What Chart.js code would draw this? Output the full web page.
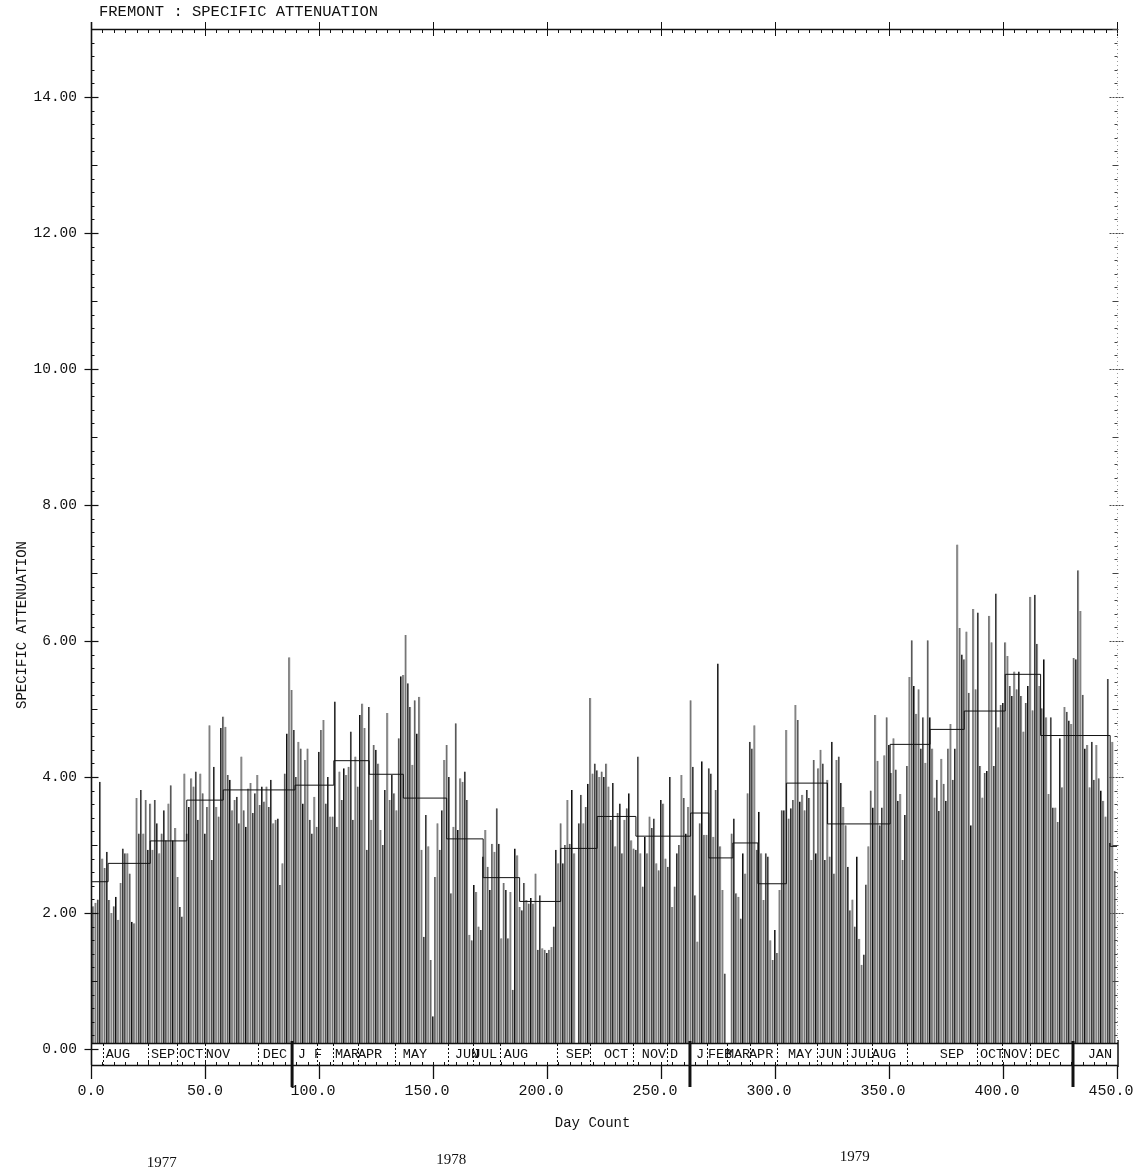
<!DOCTYPE html>
<html>
<head>
<meta charset="utf-8">
<title>FREMONT : SPECIFIC ATTENUATION</title>
<script src="https://cdn.jsdelivr.net/npm/chart.js@4.4.1/dist/chart.umd.min.js"></script>
<style>
  html, body { margin: 0; padding: 0; background: #fff; }
  #wrap { width: 1140px; height: 1174px; }
</style>
</head>
<body>
<div id="wrap"><canvas id="chart" width="1140" height="1174"></canvas></div>
<script>
// Daily specific attenuation, one value per day count (0 .. 449)
const dailyAttenuation = [
  2.44, 2.10, 2.15, 2.20, 3.93, 2.80, 2.66, 2.90, 2.19, 2.00,
  2.10, 2.24, 1.90, 2.44, 2.95, 2.88, 2.88, 2.58, 1.87, 1.85,
  3.69, 3.17, 3.81, 3.17, 3.66, 2.93, 3.61, 2.93, 3.66, 3.32,
  2.88, 3.17, 3.51, 3.07, 3.61, 3.88, 3.07, 3.25, 2.53, 2.09,
  1.95, 4.05, 3.17, 3.56, 3.98, 3.86, 4.08, 3.37, 4.05, 3.76,
  3.17, 3.56, 4.76, 2.78, 4.15, 3.56, 3.42, 4.72, 4.89, 4.74,
  4.03, 3.96, 3.51, 3.66, 3.71, 3.32, 4.30, 3.51, 3.27, 3.83,
  3.91, 3.47, 3.76, 4.03, 3.59, 3.86, 3.64, 3.86, 3.56, 3.96,
  3.32, 3.37, 3.39, 2.41, 2.73, 4.05, 4.64, 5.76, 5.28, 4.69,
  4.00, 4.52, 4.42, 3.61, 4.25, 4.42, 3.37, 3.17, 3.71, 3.27,
  4.37, 4.69, 4.84, 3.61, 4.00, 3.42, 3.42, 5.11, 3.27, 4.08,
  3.66, 4.13, 4.03, 4.15, 4.67, 3.37, 4.30, 3.86, 4.91, 5.08,
  4.72, 2.93, 5.03, 3.37, 4.47, 4.40, 4.20, 3.22, 3.00, 3.81,
  4.94, 3.66, 4.03, 3.76, 3.51, 4.57, 5.48, 5.50, 6.09, 5.38,
  5.03, 4.18, 5.13, 4.64, 5.18, 2.93, 1.65, 3.44, 2.98, 1.31,
  0.48, 2.53, 3.32, 2.93, 3.51, 4.25, 4.47, 4.00, 2.29, 3.27,
  4.79, 3.22, 3.98, 3.93, 4.08, 3.66, 1.68, 1.60, 2.41, 2.31,
  1.80, 1.75, 2.83, 3.22, 2.68, 2.34, 3.02, 2.90, 3.54, 3.02,
  1.63, 2.44, 2.34, 1.63, 2.31, 0.87, 2.95, 2.85, 2.09, 2.04,
  2.44, 2.19, 2.14, 2.22, 2.14, 2.58, 1.46, 2.26, 1.48, 1.46,
  1.41, 1.46, 1.50, 1.80, 2.93, 2.73, 3.32, 2.73, 3.00, 3.66,
  3.02, 3.81, 2.88, 0.00, 3.32, 3.74, 3.32, 3.56, 3.90, 5.16,
  4.05, 4.20, 4.10, 4.00, 4.08, 4.00, 4.20, 3.86, 3.37, 3.91,
  2.98, 3.47, 3.61, 2.88, 3.37, 3.54, 3.76, 3.07, 2.95, 2.93,
  4.30, 2.88, 2.39, 3.12, 2.88, 3.42, 3.25, 3.39, 2.73, 2.63,
  3.66, 3.61, 2.80, 2.68, 4.00, 2.09, 2.39, 2.88, 3.00, 4.03,
  3.69, 3.17, 3.56, 5.13, 4.15, 2.26, 1.58, 3.32, 4.23, 3.15,
  3.15, 4.13, 4.05, 3.12, 3.81, 5.67, 2.98, 2.34, 1.11, 0.00,
  0.00, 3.17, 3.39, 2.29, 2.24, 1.92, 2.88, 2.58, 3.76, 4.52,
  4.42, 4.76, 2.93, 3.49, 2.88, 2.19, 2.88, 2.83, 1.60, 1.31,
  1.75, 1.41, 2.34, 3.51, 3.51, 4.69, 3.39, 3.54, 3.66, 5.06,
  4.84, 3.64, 3.74, 3.51, 3.81, 3.69, 2.78, 4.25, 2.88, 4.13,
  4.40, 4.20, 2.78, 3.96, 2.83, 4.52, 2.58, 4.25, 4.30, 3.91,
  3.56, 3.29, 2.68, 2.04, 2.20, 1.80, 2.83, 1.62, 1.24, 1.39,
  2.42, 2.98, 3.80, 3.55, 4.91, 4.24, 3.29, 3.55, 4.32, 4.88,
  4.47, 4.06, 4.57, 4.11, 3.65, 3.75, 2.78, 3.44, 4.16, 5.47,
  6.01, 5.34, 4.93, 5.29, 4.42, 4.88, 4.21, 6.01, 4.88, 4.42,
  3.70, 3.96, 3.50, 4.27, 3.90, 3.65, 4.42, 4.78, 3.96, 4.42,
  7.42, 6.19, 5.80, 5.73, 6.14, 5.24, 3.29, 6.47, 5.29, 6.42,
  4.16, 3.70, 4.06, 4.09, 6.37, 5.98, 4.16, 6.70, 4.73, 5.06,
  5.09, 5.98, 5.78, 5.34, 5.19, 5.55, 5.29, 5.55, 5.19, 4.67,
  5.09, 5.34, 6.65, 4.98, 6.68, 5.96, 5.34, 5.01, 5.73, 4.88,
  3.75, 4.88, 3.55, 3.55, 3.34, 4.57, 3.85, 5.03, 4.96, 4.83,
  4.78, 5.75, 5.73, 7.04, 6.44, 5.21, 4.42, 4.47, 3.85, 4.52,
  3.96, 4.47, 3.98, 3.80, 3.65, 3.42, 5.44, 3.03, 4.52, 2.62
];

// Monthly mean levels: start day of each period and its mean value
const meanStartDay = [0, 7.5, 26, 42, 58, 89.5, 106.5, 122, 137, 156, 172, 188, 206, 222, 239, 263, 271, 281.5, 292.5, 305, 323, 350.5, 368, 383, 401, 416.5, 447, 450];
const meanValue    = [2.46, 2.73, 3.06, 3.66, 3.81, 3.88, 4.24, 4.04, 3.69, 3.09, 2.52, 2.17, 2.95, 3.42, 3.13, 3.47, 2.81, 3.03, 2.43, 3.91, 3.31, 4.48, 4.70, 4.97, 5.51, 4.61, 2.98, 2.98];

// Month strip along the day axis
const monthNames = ['AUG','SEP','OCT','NOV','DEC','J','F','MAR','APR','MAY','JUN','JUL','AUG','SEP','OCT','NOV','D','J','FEB','MAR','APR','MAY','JUN','JUL','AUG','SEP','OCT','NOV','DEC','JAN'];
const monthCenterDay = [11.8, 31.6, 43.9, 55.7, 80.7, 92.5, 99.6, 112.3, 122.4, 142.1, 164.9, 172.8, 186.4, 213.6, 230.3, 246.9, 255.7, 267.1, 275.9, 283.8, 293.9, 311.0, 324.1, 338.2, 347.8, 377.6, 395.2, 405.3, 419.7, 442.5];
const monthBoundaryDay = [5.3, 25, 37.7, 50, 73.2, 99.1, 106.1, 117.1, 133.3, 156.6, 167.5, 179.4, 204.4, 218.9, 237.7, 252.6, 270.2, 279, 289, 300.9, 318.4, 331.6, 342.5, 357.9, 388.6, 399.6, 411.8];
const yearBoundaryDay = [88.2, 262.7, 430.7];
const yearLabels = ['1977', '1978', '1979'];
const yearLabelDay = [31, 158, 335];

// Axis ticks
const xTickValues = [0, 50, 100, 150, 200, 250, 300, 350, 400, 450];
const xTickLabels = ['0.0', '50.0', '100.0', '150.0', '200.0', '250.0', '300.0', '350.0', '400.0', '450.0'];
const yTickValues = [0, 2, 4, 6, 8, 10, 12, 14];
const yTickLabels = ['0.00', '2.00', '4.00', '6.00', '8.00', '10.00', '12.00', '14.00'];

const MONO = '"Liberation Mono", "DejaVu Sans Mono", monospace';
const SERIF = '"Liberation Serif", "DejaVu Serif", serif';

function seg(ctx, x1, y1, x2, y2, w, dash) {
  ctx.beginPath();
  ctx.lineWidth = w;
  ctx.setLineDash(dash || []);
  ctx.moveTo(x1, y1);
  ctx.lineTo(x2, y2);
  ctx.stroke();
  ctx.setLineDash([]);
}

// Plotter-style frame: axes, tick marks, month strip and labels
const plotterFrame = {
  id: 'plotterFrame',
  afterDatasetsDraw(chart) {
    const { ctx, chartArea: a, scales } = chart;
    const xs = scales.x, ys = scales.y;
    const y0 = ys.getPixelForValue(0);
    const sTop = y0 - 6, sBot = y0 + 16;
    ctx.save();
    ctx.strokeStyle = '#111';
    ctx.fillStyle = '#111';

    // month strip
    ctx.fillStyle = '#fff';
    ctx.fillRect(a.left, sTop, a.right - a.left + 1, sBot - sTop);
    ctx.fillStyle = '#111';
    seg(ctx, a.left, sTop + 0.5, a.right + 1, sTop + 0.5, 1.3);
    seg(ctx, a.left, sBot + 0.5, a.right + 1, sBot + 0.5, 1.3);
    seg(ctx, a.right + 1, sTop - 3, a.right + 1, sBot + 2, 1.5);
    monthBoundaryDay.forEach(d => {
      const px = Math.round(xs.getPixelForValue(d)) + 0.5;
      seg(ctx, px, sTop + 1, px, sBot, 1, [2, 2]);
    });
    for (let d = 5; d < 450; d += 5) {
      const px = Math.round(xs.getPixelForValue(d)) + 0.5;
      seg(ctx, px, sBot - 3, px, sBot, 1);
    }
    ctx.font = '13.5px ' + MONO;
    ctx.textAlign = 'center';
    ctx.textBaseline = 'middle';
    monthNames.forEach((m, i) => {
      ctx.fillText(m, xs.getPixelForValue(monthCenterDay[i]), y0 + 5);
    });
    yearBoundaryDay.forEach(d => {
      const px = xs.getPixelForValue(d);
      seg(ctx, px, sTop - 2, px, sBot + 22, 3);
    });

    // x axis ticks and labels
    xTickValues.forEach(v => {
      const px = Math.round(xs.getPixelForValue(v)) + 0.5;
      seg(ctx, px, sBot, px, sBot + 14, 1.3);
    });
    ctx.font = '15px ' + MONO;
    ctx.textBaseline = 'middle';
    xTickValues.forEach((v, i) => {
      const shift = v < 100 ? 0 : -6;
      ctx.fillText(xTickLabels[i], xs.getPixelForValue(v) + shift, 1091);
    });
    ctx.font = '14px ' + MONO;
    ctx.fillText('Day Count', xs.getPixelForValue(220), 1123);
    ctx.font = '15px ' + SERIF;
    const yearY = [1163, 1160, 1157];
    yearLabels.forEach((t, i) => {
      ctx.fillText(t, xs.getPixelForValue(yearLabelDay[i]), yearY[i]);
    });

    // top border with day ticks
    seg(ctx, a.left, a.top + 0.5, a.right + 1, a.top + 0.5, 1.3);
    for (let d = 5; d <= 450; d += 5) {
      const px = Math.round(xs.getPixelForValue(d)) + 0.5;
      if (d % 50 === 0) seg(ctx, px, a.top - 7, px, a.top + 7, 1);
      else seg(ctx, px, a.top, px, a.top + 4, 1);
    }

    // left axis
    const lx = Math.round(a.left) + 0.5;
    seg(ctx, lx, a.top - 7, lx, sBot, 1.6);
    for (let k = 0; k <= 75; k++) {
      const v = k * 0.2;
      const py = Math.round(ys.getPixelForValue(v)) + 0.5;
      if (k % 10 === 0) seg(ctx, lx - 7, py, lx + 7, py, 1.2);
      else if (k % 5 === 0) seg(ctx, lx, py, lx + 6, py, 1);
      else seg(ctx, lx, py, lx + 3, py, 1);
    }
    ctx.font = '14.5px ' + MONO;
    ctx.textAlign = 'right';
    yTickValues.forEach((v, i) => {
      ctx.fillText(yTickLabels[i], 77, ys.getPixelForValue(v));
    });

    // right axis (faint)
    const rx = Math.round(a.right) + 0.5;
    ctx.strokeStyle = '#9a9a9a';
    seg(ctx, rx, a.top, rx, sTop, 1, [1, 3]);
    ctx.strokeStyle = '#444';
    for (let k = 1; k <= 75; k++) {
      const v = k * 0.2;
      const py = Math.round(ys.getPixelForValue(v)) + 0.5;
      if (k % 10 === 0) seg(ctx, rx - 8, py, rx + 7, py, 1, [2, 1]);
      else if (k % 5 === 0) seg(ctx, rx - 5, py, rx + 1, py, 1);
      else seg(ctx, rx - 3, py, rx, py, 1);
    }

    // titles
    ctx.fillStyle = '#111';
    ctx.textAlign = 'left';
    ctx.textBaseline = 'alphabetic';
    ctx.font = '15.5px ' + MONO;
    ctx.fillText('FREMONT : SPECIFIC ATTENUATION', 99, 16);
    ctx.save();
    ctx.translate(22, 625);
    ctx.rotate(-Math.PI / 2);
    ctx.textAlign = 'center';
    ctx.textBaseline = 'middle';
    ctx.font = '14px ' + MONO;
    ctx.fillText('SPECIFIC ATTENUATION', 0, 0);
    ctx.restore();

    ctx.restore();
  }
};

new Chart(document.getElementById('chart'), {
  type: 'bar',
  data: {
    datasets: [
      {
        type: 'line',
        label: 'Monthly mean',
        data: meanStartDay.map((d, i) => ({ x: d, y: meanValue[i] })),
        stepped: 'before',
        borderColor: '#111',
        borderWidth: 1,
        pointRadius: 0,
        fill: false,
        order: 0
      },
      {
        type: 'bar',
        label: 'Daily specific attenuation',
        data: dailyAttenuation.map((v, i) => ({ x: i, y: v })),
        backgroundColor: '#7a7a7a',
        borderColor: '#0d0d0d',
        borderWidth: { left: 1, right: 0, top: 0, bottom: 0 },
        barPercentage: 1,
        categoryPercentage: 0.93,
        order: 1
      }
    ]
  },
  options: {
    responsive: false,
    animation: false,
    events: [],
    layout: { padding: { left: 91, right: 23, top: 29, bottom: 125 } },
    plugins: { legend: { display: false }, tooltip: { enabled: false } },
    scales: {
      x: { type: 'linear', min: 0, max: 450, offset: false, display: false },
      y: { type: 'linear', min: 0, max: 15, display: false }
    }
  },
  plugins: [plotterFrame]
});
</script>
</body>
</html>
